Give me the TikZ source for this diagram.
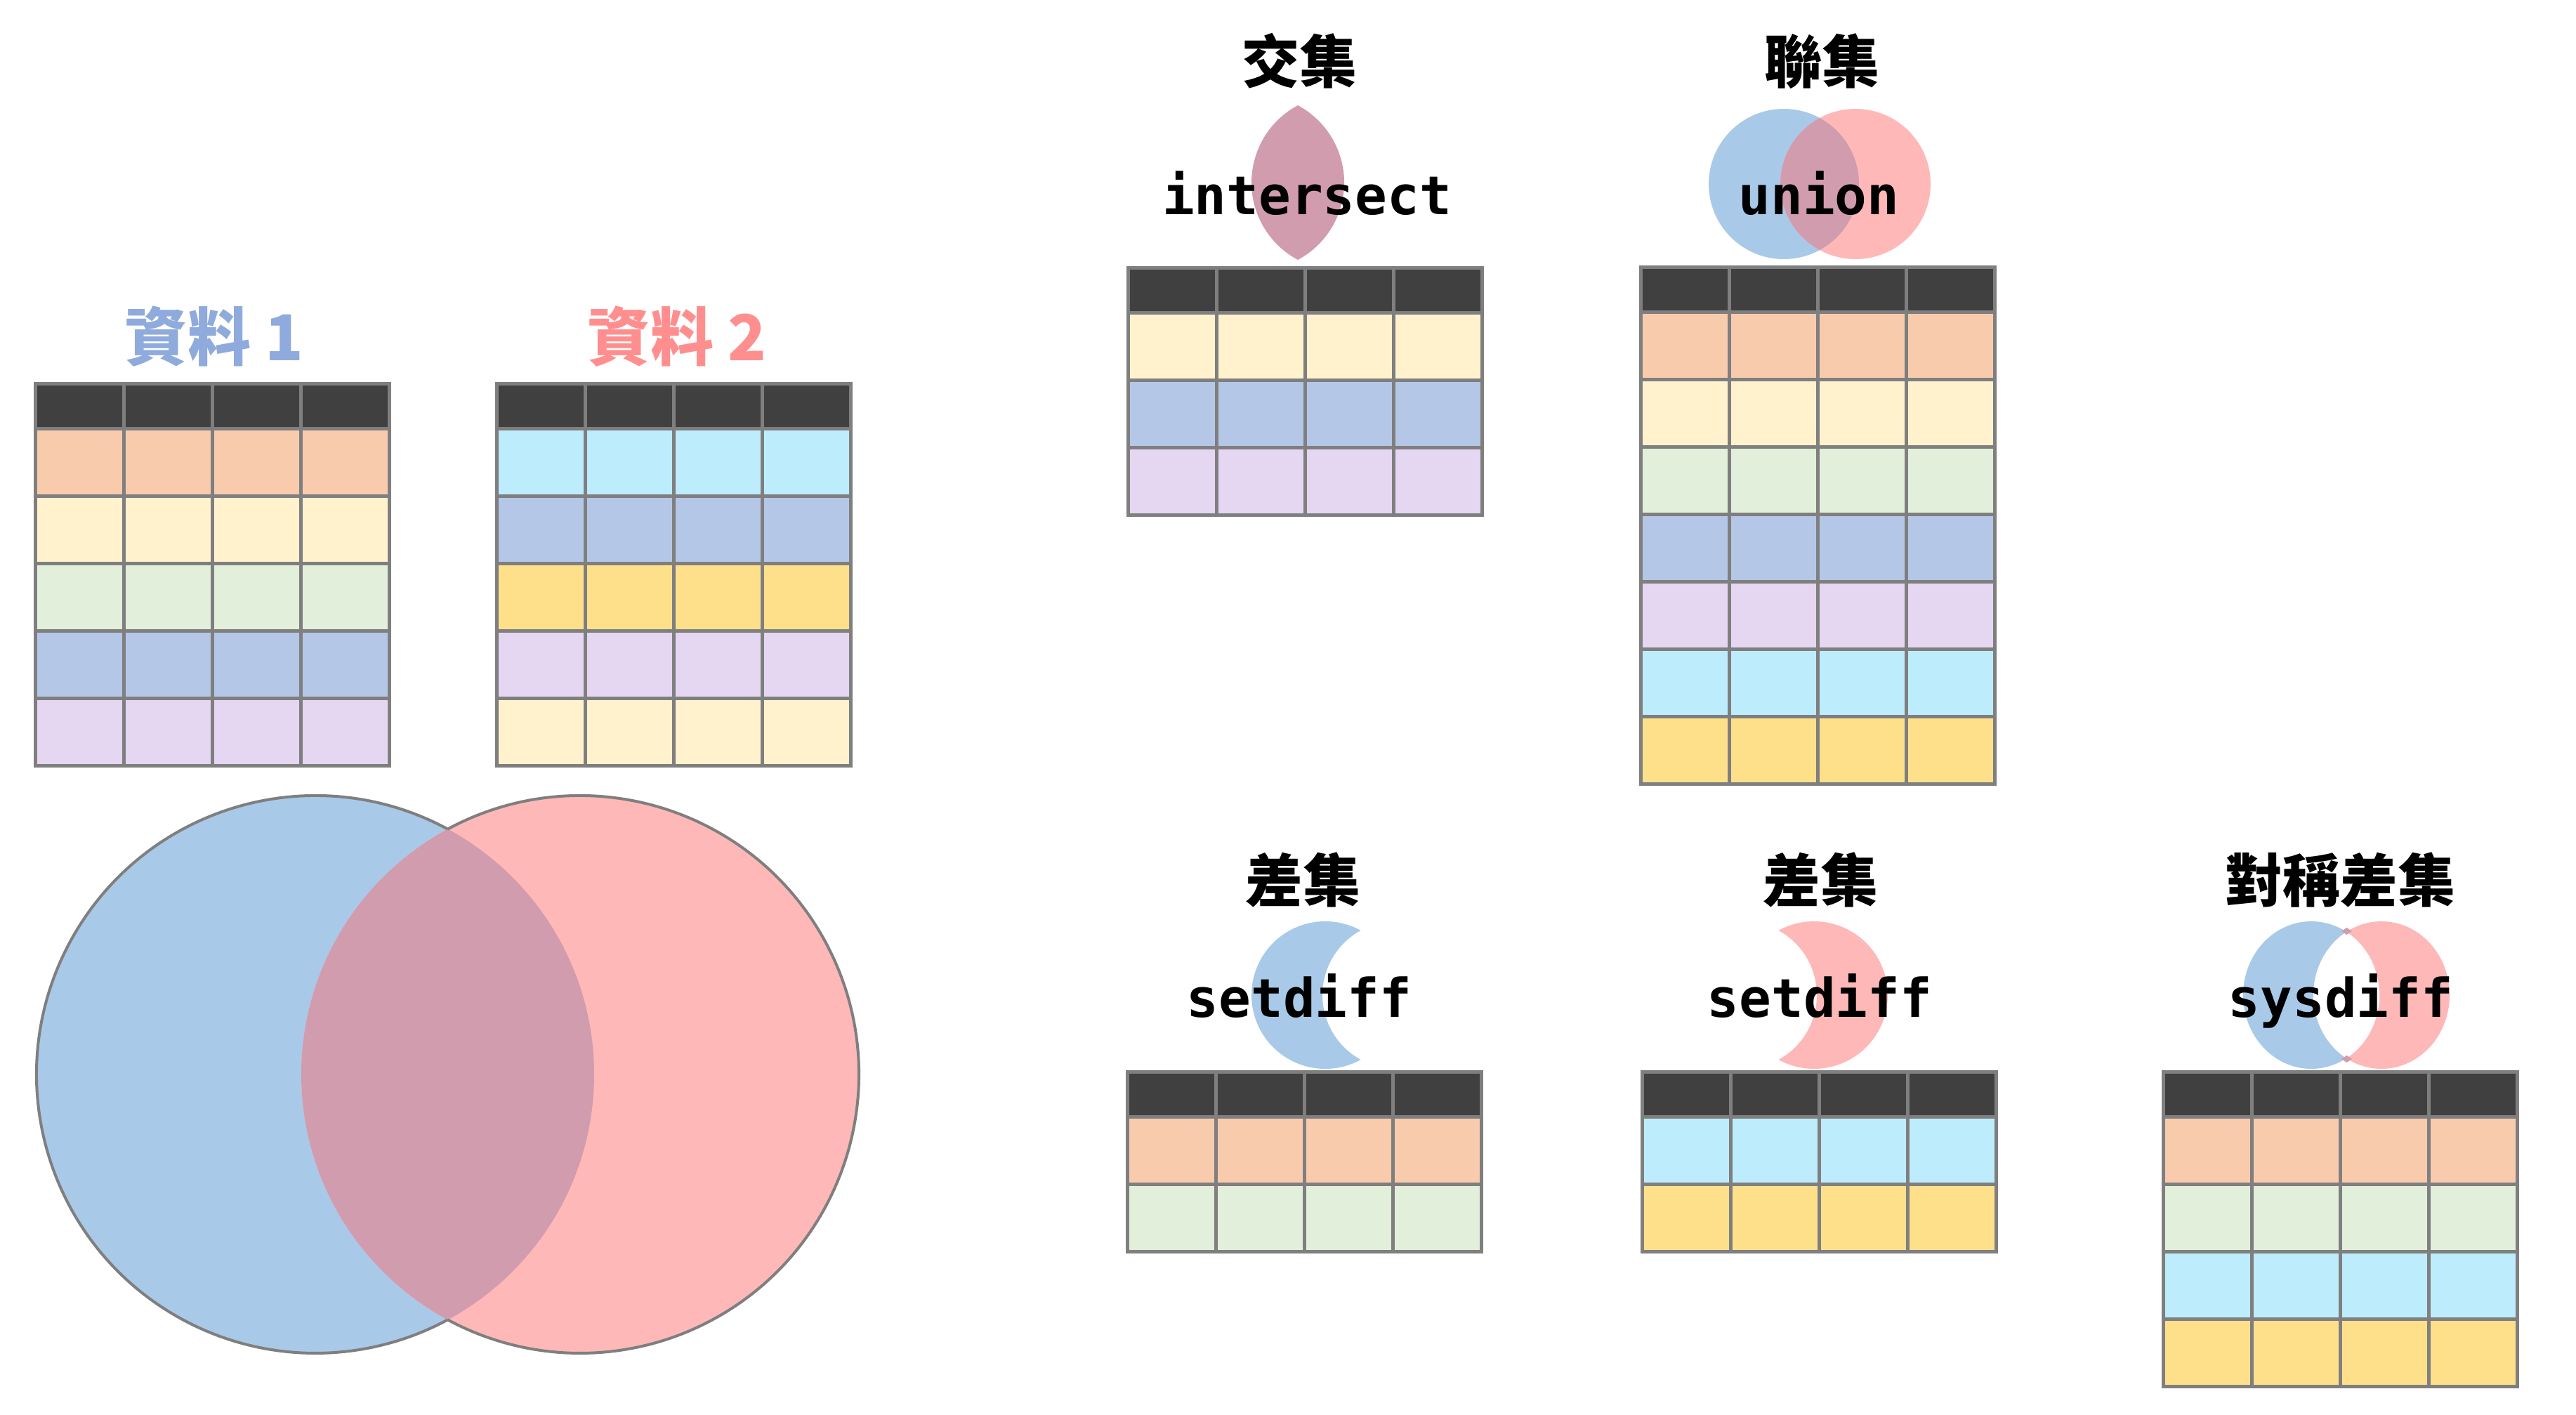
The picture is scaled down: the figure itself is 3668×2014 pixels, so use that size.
\documentclass[tikz,border=0pt]{standalone}
\usepackage{fontspec}
\newfontfamily\cjk{Noto Sans CJK TC}
\newfontfamily\monof{DejaVu Sans Mono}
\definecolor{hdr}{HTML}{404040}
\definecolor{gridc}{HTML}{7F7F7F}
\definecolor{corange}{HTML}{F8CBAD}
\definecolor{cyellow}{HTML}{FFF2CC}
\definecolor{cgreen}{HTML}{E2EFDA}
\definecolor{cblue}{HTML}{B4C7E7}
\definecolor{cpurple}{HTML}{E5D6F2}
\definecolor{ccyan}{HTML}{BDEDFC}
\definecolor{cgold}{HTML}{FFE08A}
\definecolor{vblue}{HTML}{A9C9E8}
\definecolor{vpink}{HTML}{FFB8B8}
\definecolor{vmix}{HTML}{D19CAD}
\definecolor{tblue}{HTML}{8FAADC}
\definecolor{tpink}{HTML}{FF8F8F}
\newcommand{\datatable}[3]{%
  \begin{scope}[shift={(#1,-#2)}]
    \fill[hdr] (0,0) rectangle (504,-64);
    \foreach \rc [count=\ri] in {#3} {
      \fill[fill=\rc] (0,{-64-96*(\ri-1)}) rectangle (504,{-64-96*\ri});
      \foreach \cc in {0,1,2,3}
        \draw[gridline] ({126*\cc},{-64-96*(\ri-1)}) rectangle ({126*(\cc+1)},{-64-96*\ri});
    }
    \foreach \cc in {0,1,2,3}
      \draw[gridline] ({126*\cc},0) rectangle ({126*(\cc+1)},-64);
  \end{scope}}
\begin{document}
\begin{tikzpicture}[x=0.25pt,y=0.25pt,
  gridline/.style={draw=gridc,line width=1.25pt},
  vout/.style={draw=gridc,line width=1pt},
  ttl/.style={font={\cjk\bfseries\fontsize{20.5}{24}\selectfont},inner sep=0pt,anchor=center},
  bigttl/.style={font={\cjk\bfseries\fontsize{22.5}{26}\selectfont},inner sep=0pt,anchor=center},
  fn/.style={font={\monof\bfseries\fontsize{19}{22}\selectfont},inner sep=0pt,anchor=base}]
\useasboundingbox[fill=white] (0,0) rectangle (3668,-2014);

% ---- source tables
\datatable{50}{546}{corange,cyellow,cgreen,cblue,cpurple}
\datatable{707}{546}{ccyan,cblue,cgold,cpurple,cyellow}
% ---- result tables
\datatable{1606}{381}{cyellow,cblue,cpurple}
\datatable{2336}{380}{corange,cyellow,cgreen,cblue,cpurple,ccyan,cgold}
\datatable{1605}{1526}{corange,cgreen}
\datatable{2338}{1526}{ccyan,cgold}
\datatable{3080}{1526}{corange,cgreen,ccyan,cgold}

% ---- big Venn
\fill[vblue] (449,-1530) circle[radius=397];
\fill[vpink] (826,-1530) circle[radius=397];
\begin{scope}
  \clip (449,-1530) circle[radius=397];
  \fill[vmix] (826,-1530) circle[radius=397];
\end{scope}
\draw[vout] (637.5,-1180.6) arc[start angle=61.65,end angle=298.35,radius=397];
\draw[vout] (637.5,-1180.6) arc[start angle=118.35,end angle=-118.35,radius=397];

% ---- intersect icon
\fill[vmix] (1848,-150) arc[start angle=118.1,end angle=241.9,radius=124.7]
  arc[start angle=-61.9,end angle=61.9,radius=124.7] -- cycle;

% ---- union icon
\fill[vblue] (2540,-262) circle[radius=107];
\fill[vpink] (2642,-262) circle[radius=107];
\begin{scope}
  \clip (2540,-262) circle[radius=107];
  \fill[vmix] (2642,-262) circle[radius=107];
\end{scope}

% ---- setdiff icons
\fill[vblue] (1937.5,-1324.94) arc[start angle=61.25,end angle=298.75,radius=105]
  arc[start angle=241.25,end angle=118.75,radius=105] -- cycle;
\fill[vpink] (2532.5,-1324.94) arc[start angle=118.75,end angle=-118.75,radius=105]
  arc[start angle=-61.25,end angle=61.25,radius=105] -- cycle;

% ---- sysdiff icon
\fill[vblue] (3291,-1417) ellipse[x radius=97,y radius=105];
\fill[vpink] (3391,-1417) ellipse[x radius=97,y radius=105];
\begin{scope}
  \clip (3291,-1417) ellipse[x radius=97,y radius=105];
  \fill[white] (3391,-1417) ellipse[x radius=97,y radius=105];
\end{scope}
\fill[vmix] (3334,-1326) -- (3341.5,-1321) -- (3349,-1326) -- (3341.5,-1331) -- cycle;
\fill[vmix] (3334,-1508) -- (3341.5,-1503) -- (3349,-1508) -- (3341.5,-1513) -- cycle;

% ---- titles
\node[bigttl,text=tblue] (d1) at (305,-479) {資料 1};
\node[bigttl,text=tpink] (d2) at (964,-479) {資料 2};
\node[ttl] (tint) at (1850,-87) {交集};
\node[ttl] (tuni) at (2594,-87) {聯集};
\node[ttl] (tsd1) at (1855,-1253) {差集};
\node[ttl] (tsd2) at (2592,-1253) {差集};
\node[ttl] (tsys) at (3332,-1253) {對稱差集};

% ---- function labels
\node[fn] (fint) at (1861,-305) {intersect};
\node[fn] (funi) at (2590,-305) {union};
\node[fn] (fsd1) at (1850,-1448) {setdiff};
\node[fn] (fsd2) at (2591,-1448) {setdiff};
\node[fn] (fsys) at (3333,-1448) {sysdiff};
\end{tikzpicture}
\end{document}
